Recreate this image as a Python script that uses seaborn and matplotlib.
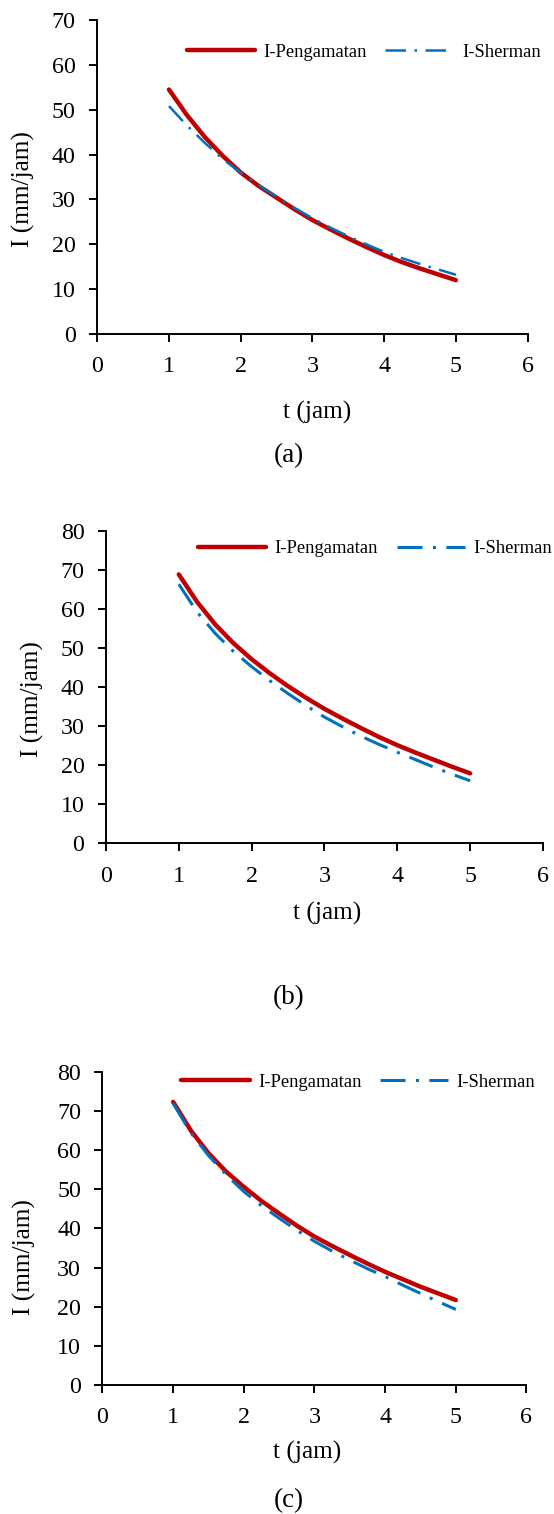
import numpy as np
import matplotlib
matplotlib.use("Agg")
import matplotlib.pyplot as plt
import pandas as pd
import seaborn as sns

# durasi hujan (jam)
t = [1.0, 1.25, 1.5, 1.75, 2.0, 2.25, 2.5, 2.75, 3.0,
     3.25, 3.5, 3.75, 4.0, 4.25, 4.5, 4.75, 5.0]

# (a)
obs_a = [54.5, 48.8, 43.9, 39.7, 36.0, 33.0, 30.4, 27.8, 25.4,
         23.3, 21.3, 19.4, 17.6, 16.0, 14.6, 13.3, 12.0]
sher_a = [50.8, 46.5, 42.6, 39.0, 36.0, 33.2, 30.6, 28.1, 25.8,
          23.7, 21.8, 20.0, 18.3, 16.9, 15.6, 14.4, 13.2]
# (b)
obs_b = [68.8, 61.8, 56.0, 51.2, 47.1, 43.5, 40.2, 37.2, 34.4,
         31.9, 29.5, 27.2, 25.1, 23.2, 21.4, 19.6, 17.9]
sher_b = [66.3, 59.2, 53.7, 49.1, 45.2, 41.6, 38.3, 35.2, 32.3,
          29.8, 27.4, 25.3, 23.3, 21.4, 19.5, 17.7, 16.0]
# (c)
obs_c = [72.3, 65.0, 59.2, 54.5, 50.6, 47.0, 43.8, 40.7, 37.9,
         35.5, 33.2, 31.0, 28.9, 27.0, 25.1, 23.4, 21.7]
sher_c = [72.0, 64.4, 58.6, 53.7, 49.4, 45.8, 42.6, 39.5, 36.7,
          34.2, 31.9, 29.7, 27.7, 25.5, 23.4, 21.3, 19.3]

ymax = [70, 80, 80]
captions = ["(a)", "(b)", "(c)"]

sns.set_style("ticks", {"axes.edgecolor": "black", "text.color": "black",
                        "axes.labelcolor": "black", "xtick.color": "black",
                        "ytick.color": "black"})
plt.rcParams['font.family'] = ['Liberation Serif', 'DejaVu Serif']

fig = plt.figure(figsize=(5.54, 15.14), dpi=100)

# axes boxes in figure fractions
boxes = [[0.1755, 0.7794, 0.7769, 0.2074],
         [0.1913, 0.4430, 0.7888, 0.2065],
         [0.1850, 0.0852, 0.7653, 0.2069]]
leg_pos = [(0.208, 0.898), (0.2105, 0.9415), (0.186, 0.966)]
ylab_pos = [(-0.1445, 0.462), (-0.142, 0.46), (-0.158, 0.407)]
xlab_pos = [(0.511, -0.213), (0.507, -0.186), (0.483, -0.18)]
cap_xy = [(289, 456), (289, 998), (289, 1501)]
blue_lw = [1.8, 2.2, 2.2]

series = [(obs_a, sher_a), (obs_b, sher_b), (obs_c, sher_c)]

for i, (obs, sher) in enumerate(series):
    ax = fig.add_axes(boxes[i])
    df = pd.DataFrame({"t": t, "obs": obs, "sher": sher})
    sns.lineplot(data=df, x="t", y="obs", ax=ax, color="#C00000", lw=3.2,
                 solid_capstyle="round", label="I-Pengamatan")
    sns.lineplot(data=df, x="t", y="sher", ax=ax, color="#0070C0", lw=blue_lw[i],
                 label="I-Sherman")
    ax.lines[1].set_dashes([8.2, 3.4, 1, 3.4])
    ax.lines[1].set_dash_capstyle("butt")

    ax.set_xlim(0, 6)
    ax.set_ylim(0, ymax[i])
    ax.set_xticks(range(0, 7))
    ax.set_yticks(range(0, ymax[i] + 1, 10))
    sns.despine(ax=ax)
    for s in ["left", "bottom"]:
        ax.spines[s].set_linewidth(1.4)
        ax.spines[s].set_color("black")
    ax.tick_params(length=6, width=1.4, labelsize=17.3, color="black", labelcolor="black")
    ax.tick_params(axis="x", pad=10)
    ax.tick_params(axis="y", pad=9.5)

    ax.set_xlabel("t (jam)", fontsize=18.3, color="black")
    ax.set_ylabel("I (mm/jam)", fontsize=18.3, color="black")
    ax.xaxis.set_label_coords(*xlab_pos[i])
    ax.yaxis.set_label_coords(*ylab_pos[i])

    ax.legend(loc="center left", bbox_to_anchor=leg_pos[i], ncol=2, frameon=False,
              fontsize=13.4, handlelength=3.68, handletextpad=0.43, columnspacing=1.0,
              borderpad=0, borderaxespad=0, labelcolor="black")

    fig.text(cap_xy[i][0] / 554, 1 - cap_xy[i][1] / 1514, captions[i], fontsize=19.5,
             ha="center", va="center", color="black")

fig.savefig("out.png", dpi=100)
